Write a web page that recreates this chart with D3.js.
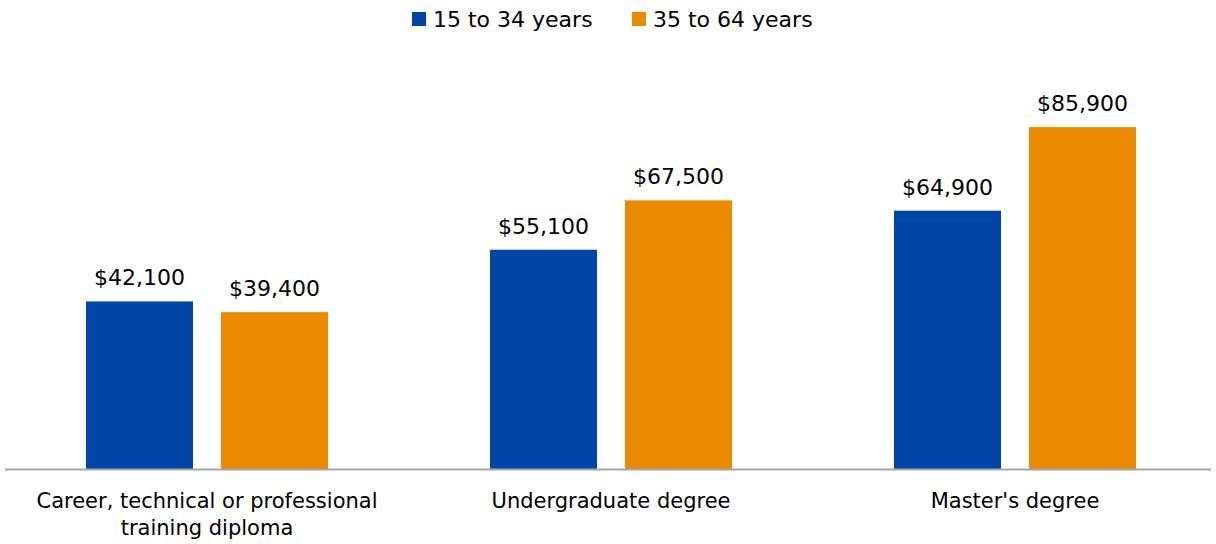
<!DOCTYPE html>
<html>
<head>
<meta charset="utf-8">
<script src="https://cdn.jsdelivr.net/npm/d3@7"></script>
<style>
  html, body { margin: 0; padding: 0; background: #fff; }
  svg { display: block; font-family: "DejaVu Sans", sans-serif; }
</style>
</head>
<body>
<svg id="chart" width="1216" height="544"></svg>
<script>
// Median income by education level and age group
const categories = [
  ["Career, technical or professional", "training diploma"],
  ["Undergraduate degree"],
  ["Master's degree"]
];
const seriesNames = ["15 to 34 years", "35 to 64 years"];
const youngValues = [42100, 55100, 64900];
const olderValues = [39400, 67500, 85900];
const seriesColors = ["#0046A8", "#EC8B00"];

const svg = d3.select("#chart");
const baseY = 469;

const x0 = d3.scaleBand()
  .domain(d3.range(categories.length))
  .range([5, 1217])
  .paddingInner(0)
  .paddingOuter(0);

const innerPad = 81;
const x1 = d3.scaleBand()
  .domain(d3.range(seriesNames.length))
  .range([innerPad, x0.bandwidth() - innerPad])
  .paddingInner(28 / 135);

const y = d3.scaleLinear().domain([0, 100000]).range([baseY, 71]);

const fmt = v => "$" + d3.format(",")(v);
const seriesValues = [youngValues, olderValues];

const rows = categories.map((c, i) => ({
  i, label: c,
  vals: seriesValues.map((s, k) => ({ k, v: s[i] }))
}));

const groups = svg.selectAll("g.grp").data(rows).join("g")
  .attr("class", "grp")
  .attr("transform", d => `translate(${x0(d.i)},0)`);

groups.selectAll("rect").data(d => d.vals).join("rect")
  .attr("x", d => x1(d.k))
  .attr("width", x1.bandwidth())
  .attr("y", d => y(d.v))
  .attr("height", d => y(0) - y(d.v))
  .attr("fill", d => seriesColors[d.k]);

groups.selectAll("text.val").data(d => d.vals).join("text")
  .attr("class", "val")
  .attr("x", d => x1(d.k) + x1.bandwidth() / 2)
  .attr("y", d => y(d.v) - 16)
  .attr("text-anchor", "middle")
  .attr("font-size", 22)
  .attr("fill", "#000")
  .text(d => fmt(d.v));

// baseline
svg.append("line")
  .attr("x1", 5).attr("x2", 1211)
  .attr("y1", baseY + 0.5).attr("y2", baseY + 0.5)
  .attr("stroke", "#A6A6A6").attr("stroke-width", 2);

// category labels
groups.each(function(d) {
  const t = d3.select(this).append("text")
    .attr("text-anchor", "middle")
    .attr("font-size", 21)
    .attr("fill", "#000");
  d.label.forEach((line, j) => {
    t.append("tspan")
      .attr("x", x0.bandwidth() / 2)
      .attr("y", 508 + j * 27)
      .text(line);
  });
});

// legend
const legendX = [412, 632];
const legend = svg.selectAll("g.leg").data(seriesNames).join("g")
  .attr("class", "leg")
  .attr("transform", (d, i) => `translate(${legendX[i]},0)`);
legend.append("rect")
  .attr("x", 0).attr("y", 12).attr("width", 14).attr("height", 14)
  .attr("fill", (d, i) => seriesColors[i]);
legend.append("text")
  .attr("x", 21).attr("y", 27)
  .attr("font-size", 22)
  .attr("fill", "#000")
  .text(d => d);
</script>
</body>
</html>
